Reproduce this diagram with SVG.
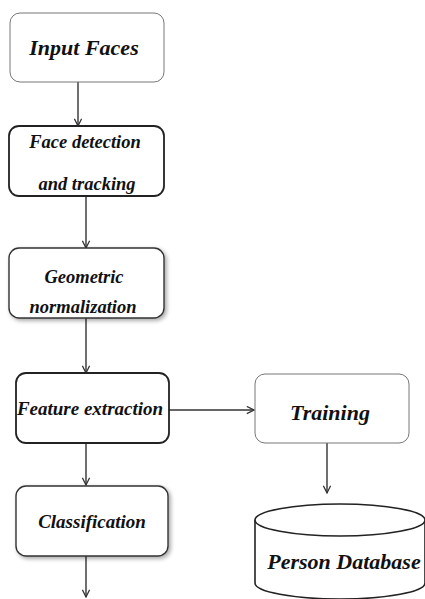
<svg xmlns="http://www.w3.org/2000/svg" width="425" height="599" viewBox="0 0 425 599">
<style>
text{font-family:"Liberation Serif","Times New Roman",serif;font-weight:bold;font-style:italic;fill:#111;text-anchor:middle}
.light{fill:#fff;stroke:#777;stroke-width:1}
.dark{fill:#fff;stroke:#222;stroke-width:1.8}
.mid{fill:#fff;stroke:#333;stroke-width:1.4}
.conn line{stroke:#333;stroke-width:1.4;marker-end:url(#arr)}
</style>
<defs>
<marker id="arr" viewBox="0 0 10 10" refX="9" refY="5" markerWidth="9" markerHeight="9" markerUnits="userSpaceOnUse" orient="auto">
<polyline points="1,1 9,5 1,9" fill="none" stroke="#333" stroke-width="1.4"/>
</marker>
<filter id="sh" x="-10%" y="-10%" width="125%" height="130%">
<feDropShadow dx="2" dy="2" stdDeviation="2" flood-color="#000" flood-opacity="0.35"/>
</filter>
</defs>
<rect width="425" height="599" fill="#fff"/>
<g class="conn">
<line x1="78" y1="82" x2="78" y2="126"/>
<line x1="86" y1="196" x2="86" y2="248"/>
<line x1="86" y1="318" x2="86" y2="373"/>
<line x1="169" y1="410" x2="254" y2="410"/>
<line x1="327" y1="443" x2="327" y2="493"/>
<line x1="86" y1="443" x2="86" y2="485"/>
<line x1="86" y1="556" x2="86" y2="597"/>
</g>
<g id="input-faces">
<rect class="light" x="10" y="13" width="154" height="69" rx="10"/>
<text x="84" y="55" font-size="22">Input Faces</text>
</g>
<g id="face-detection">
<rect class="dark" x="9" y="126" width="155" height="70" rx="10"/>
<text x="85" y="148" font-size="18.5">Face detection</text>
<text x="87" y="190" font-size="18.5">and tracking</text>
</g>
<g id="geometric-normalization">
<rect class="mid" x="9" y="248" width="155" height="70" rx="10" filter="url(#sh)"/>
<text x="84" y="283" font-size="18.5">Geometric</text>
<text x="83" y="313" font-size="18.5">normalization</text>
</g>
<g id="feature-extraction">
<rect class="dark" x="16" y="373" width="153" height="70" rx="10"/>
<text x="90" y="415" font-size="19">Feature extraction</text>
</g>
<g id="classification">
<rect class="mid" x="16" y="486" width="152" height="70" rx="10" filter="url(#sh)"/>
<text x="92" y="528" font-size="19">Classification</text>
</g>
<g id="training">
<rect class="light" x="255" y="374" width="154" height="69" rx="10"/>
<text x="330" y="420" font-size="22">Training</text>
</g>
<g id="person-database">
<path d="M255,520 L255,583 A85,16 0 0 0 425,583 L425,520" fill="#fff" stroke="#222" stroke-width="1.6"/>
<ellipse cx="340" cy="520" rx="85" ry="16" fill="#fff" stroke="#222" stroke-width="1.6"/>
<text x="344" y="569" font-size="22">Person Database</text>
</g>
</svg>
